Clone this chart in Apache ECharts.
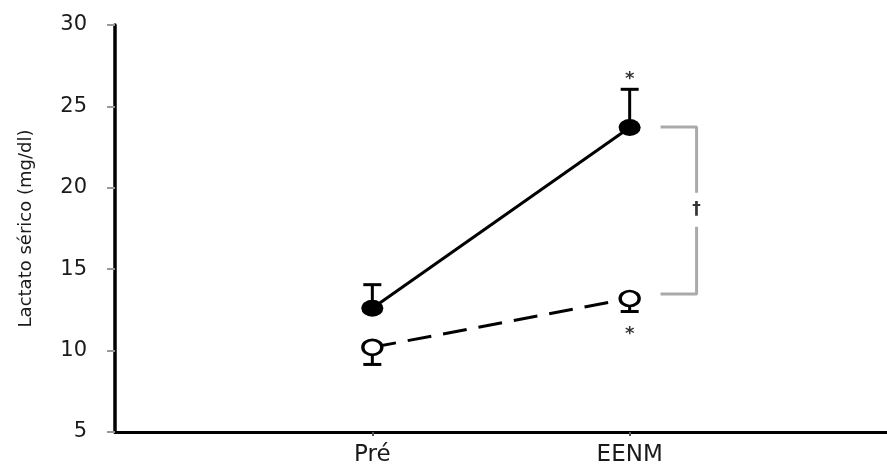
<!DOCTYPE html>
<html>
<head>
<meta charset="utf-8">
<script src="https://cdn.jsdelivr.net/npm/echarts@6/dist/echarts.min.js"></script>
<style>
  html, body { margin: 0; padding: 0; background: #fff; }
  #chart { width: 887px; height: 471px; }
</style>
</head>
<body>
<div id="chart"></div>
<script>
// groups on the x axis (positions 1 and 2)
const categories = ["Pré", "EENM"];
const yTicks = [5, 10, 15, 20, 25, 30];

// filled circles (solid line), error bar goes up
const filledMean = [12.6, 23.7];
const filledUpper = [14.05, 26.05];

// open circles (dashed line), error bar goes down
const openMean = [10.2, 13.2];
const openLower = [9.15, 12.4];

// significance marks
const starMarks = [[2, 27.0], [2, 11.3]];
const daggerMark = [[2.26, 18.65]];
const bracketTop = [[2.12, 23.73], [2.26, 23.73], [2.26, 19.7]];
const bracketBottom = [[2.26, 17.6], [2.26, 13.48], [2.12, 13.48]];

const font = "DejaVu Sans";
const chart = echarts.init(document.getElementById("chart"), null, { renderer: "canvas" });

function toPoints(values) {
  return values.map((v, i) => [i + 1, v]);
}

function errorBars(means, ends) {
  return means.map((m, i) => [i + 1, m, ends[i]]);
}

function renderErrorBar(params, api) {
  const p0 = api.coord([api.value(0), api.value(1)]);
  const p1 = api.coord([api.value(0), api.value(2)]);
  const half = 9;
  const style = { stroke: "#000", lineWidth: 3 };
  return {
    type: "group",
    children: [
      { type: "line", shape: { x1: p0[0], y1: p0[1], x2: p1[0], y2: p1[1] }, style: style },
      { type: "line", shape: { x1: p1[0] - half, y1: p1[1], x2: p1[0] + half, y2: p1[1] }, style: style },
    ],
  };
}

chart.setOption({
  animation: false,
  grid: { left: 115, right: 0, top: 25, bottom: 39, containLabel: false },
  xAxis: {
    type: "value",
    min: 0,
    max: 3,
    interval: 1,
    axisLine: { lineStyle: { color: "#000", width: 3 } },
    axisTick: { show: true, customValues: [1, 2], length: 4, lineStyle: { color: "#555", width: 2 } },
    axisLabel: {
      customValues: [1, 2],
      formatter: (v) => categories[Math.round(v) - 1] || "",
      color: "#1a1a1a",
      fontFamily: font,
      fontSize: 23,
      margin: 12,
    },
    splitLine: { show: false },
  },
  yAxis: {
    type: "value",
    min: 5,
    max: 30,
    interval: 5,
    name: "Lactato sérico (mg/dl)",
    nameLocation: "middle",
    nameGap: 80,
    nameTextStyle: { color: "#1a1a1a", fontFamily: font, fontSize: 18 },
    axisLine: { show: true, lineStyle: { color: "#000", width: 3.5 } },
    axisTick: { show: true, length: 8, lineStyle: { color: "#999", width: 2 } },
    axisLabel: {
      formatter: (v) => (yTicks.includes(v) ? String(v) : ""),
      color: "#1a1a1a",
      fontFamily: font,
      fontSize: 21,
      margin: 28,
    },
    splitLine: { show: false },
  },
  series: [
    {
      type: "custom",
      renderItem: renderErrorBar,
      data: errorBars(filledMean, filledUpper),
      z: 1,
    },
    {
      type: "custom",
      renderItem: renderErrorBar,
      data: errorBars(openMean, openLower),
      z: 1,
    },
    {
      type: "line",
      data: toPoints(filledMean),
      symbol: "circle",
      symbolSize: [22, 17],
      itemStyle: { color: "#000" },
      lineStyle: { color: "#000", width: 3 },
      z: 3,
    },
    {
      type: "line",
      data: toPoints(openMean),
      symbol: "circle",
      symbolSize: [19, 15],
      itemStyle: { color: "#fff", borderColor: "#000", borderWidth: 3 },
      lineStyle: { color: "#000", width: 3, type: [24, 12] },
      z: 3,
    },
    {
      type: "line",
      data: bracketTop,
      symbol: "none",
      lineStyle: { color: "#aaa", width: 3 },
      z: 2,
    },
    {
      type: "line",
      data: bracketBottom,
      symbol: "none",
      lineStyle: { color: "#aaa", width: 3 },
      z: 2,
    },
    {
      type: "scatter",
      data: starMarks,
      symbolSize: 0,
      label: {
        show: true,
        position: "inside",
        formatter: "*",
        color: "#000",
        fontFamily: font,
        fontWeight: "bold",
        fontSize: 18,
        offset: [0, 5],
      },
      z: 4,
    },
    {
      type: "scatter",
      data: daggerMark,
      symbolSize: 0,
      label: {
        show: true,
        position: "inside",
        formatter: "†",
        color: "#000",
        fontFamily: font,
        fontWeight: "bold",
        fontSize: 17,
      },
      z: 4,
    },
  ],
});
</script>
</body>
</html>
